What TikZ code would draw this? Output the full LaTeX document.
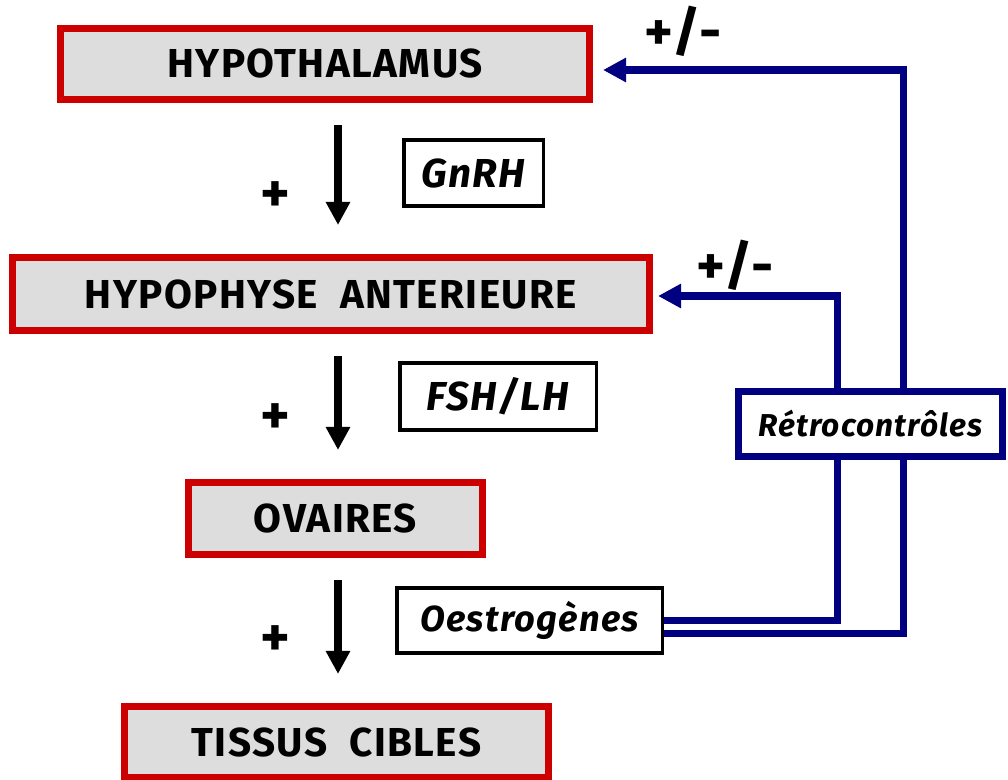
\documentclass[tikz,border=0pt]{standalone}
\usepackage{fontspec}
\setmainfont{Fira Sans}[LetterSpace=3.5]
\usepackage{tikz}
\usetikzlibrary{arrows.meta,calc,positioning}
\definecolor{rouge}{RGB}{204,0,0}
\definecolor{gris}{RGB}{221,221,221}
\definecolor{marine}{RGB}{0,0,128}

\begin{document}
\begin{tikzpicture}[>={Triangle[length=0.23cm,width=0.23cm]},
  organe/.style={draw=rouge,fill=gris,line width=2pt,inner sep=0pt,font=\fontsize{11.5}{13}\selectfont\bfseries},
  hormone/.style={draw=black,fill=white,line width=1pt,inner sep=0pt,font=\fontsize{11.5}{13}\selectfont\bfseries\itshape},
  fleche/.style={->,line width=2pt,shorten <=0.22cm,shorten >=0.29cm},
  retro/.style={->,draw=marine,line width=2pt},
  signe/.style={inner sep=0pt,font=\fontsize{16}{18}\selectfont\bfseries}]
  \useasboundingbox (0,0) rectangle (10.08,7.79);
  % organes
  \node[organe,minimum width=5.29cm,minimum height=0.71cm] (hypo) at (3.25,7.15) {HYPOTHALAMUS};
  \node[organe,minimum width=6.37cm,minimum height=0.73cm] (hypoph) at (3.31,4.85) {HYPOPHYSE\ \ ANTERIEURE};
  \node[organe,minimum width=2.94cm,minimum height=0.72cm] (ovaires) at (3.355,2.605) {OVAIRES};
  \node[organe,minimum width=4.24cm,minimum height=0.71cm] (tissus) at (3.365,0.37) {TISSUS\ \ CIBLES};
  % hormones
  \node[hormone,minimum width=1.395cm,minimum height=0.665cm] (gnrh) at (4.735,6.06) {GnRH};
  \node[hormone,minimum width=1.965cm,minimum height=0.675cm] (fsh) at (4.98,3.825) {FSH/LH};
  \node[hormone,minimum width=2.655cm,minimum height=0.655cm,font=\fontsize{10.3}{12}\selectfont\bfseries\itshape] (oestro) at (5.295,1.585) {Oestrogènes};
  % fleches de stimulation
  \coordinate (axe) at (3.38,0);
  \draw[fleche] (hypo.south -| axe) -- (hypoph.north -| axe);
  \draw[fleche] (hypoph.south -| axe) -- (ovaires.north -| axe);
  \draw[fleche] (ovaires.south -| axe) -- (tissus.north -| axe);
  \node[signe] (plusA) at (2.75,5.82) {+};
  \node[signe] (plusB) at (2.75,3.60) {+};
  \node[signe] (plusC) at (2.75,1.38) {+};
  % retrocontroles
  \coordinate (coinA) at (9.03,7.09);
  \coordinate (coinB) at (8.37,4.83);
  \draw[retro,shorten >=0.1cm] ([yshift=-0.13cm]oestro.east) -| (coinA) -- (coinA -| hypo.east);
  \draw[retro,shorten >=0.05cm] (oestro.east) -| (coinB) -- (coinB -| hypoph.east);
  \node[draw=marine,fill=white,line width=2pt,inner sep=0pt,minimum width=2.64cm,minimum height=0.65cm,
    font=\fontsize{9}{11}\selectfont\bfseries\itshape] (retrobox) at (8.705,3.55) {Rétrocontrôles};
  \node[signe,font=\fontsize{15.5}{17}\selectfont\bfseries] (pmA) at (6.83,7.48) {+/-};
  \node[signe,font=\fontsize{15.5}{17}\selectfont\bfseries] (pmB) at (7.35,5.14) {+/-};
\end{tikzpicture}
\end{document}
